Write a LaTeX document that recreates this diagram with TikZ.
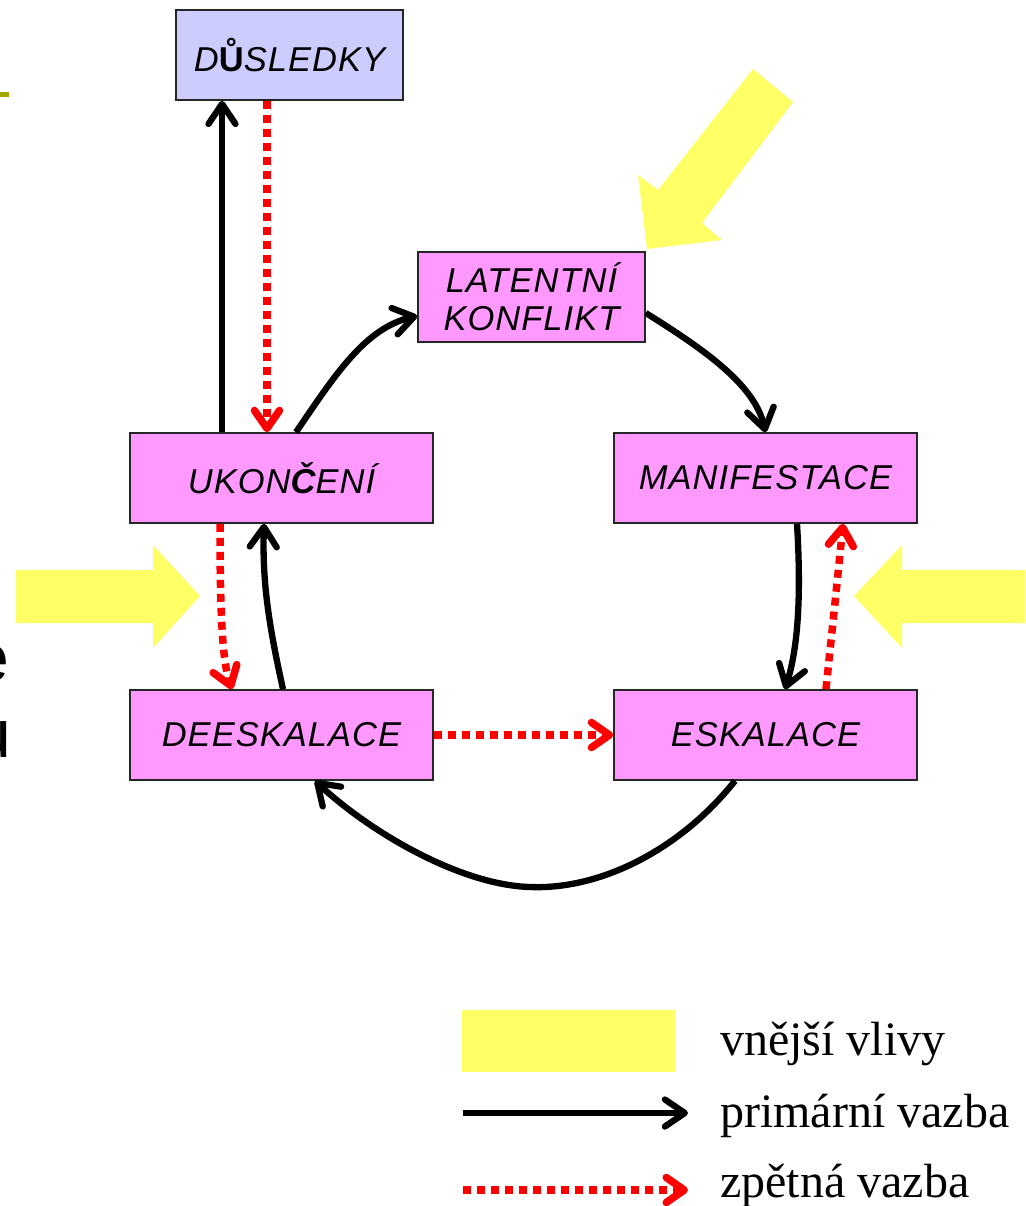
\documentclass[tikz,border=0pt]{standalone}
\usepackage{fontspec}
\setmainfont{Liberation Serif}
\newfontfamily\boxfont[LetterSpace=3]{Liberation Sans}
\newfontfamily\edgefont{Liberation Sans}
\usetikzlibrary{arrows.meta}
\definecolor{boxpink}{HTML}{FF99FF}
\definecolor{boxlav}{HTML}{CCCCFF}
\definecolor{infl}{HTML}{FFFF66}
\definecolor{olive}{HTML}{A6A600}
\tikzset{
  box/.style={draw=black!85, line width=1.6pt, inner sep=0pt, align=center,
    font=\boxfont\itshape\fontsize{34.5}{38}\selectfont},
  pinkbox/.style={box, fill=boxpink, minimum width=303pt, minimum height=90pt},
  smallbox/.style={box, minimum width=227pt, minimum height=90pt},
  prim/.style={line width=6.3pt, black, -{Straight Barb[length=20pt,width=27pt,round]}},
  fb/.style={line width=7.5pt, red, dash pattern=on 8pt off 6pt,
    -{Straight Barb[length=18pt,width=25pt,round]}},
  influence/.style={fill=infl},
  legtext/.style={anchor=base west, inner sep=0pt, font=\fontsize{48}{56}\selectfont},
  fragment/.style={anchor=base east, inner sep=0pt, font=\edgefont\fontsize{68}{80}\selectfont}
}
\begin{document}
\begin{tikzpicture}[x=1pt,y=-1pt]
\useasboundingbox (0,0) rectangle (1025,1206);

% fragments at the left edge (cut off in the reference too)
\fill[olive] (0,92.5) rectangle (9,97.5);
\node[fragment] (fe) at (10,681) {e};
\node[fragment] (fu) at (12,757) {u};

% external influences
\fill[influence] (753,69) -- (793,102) -- (702,223) -- (722,240) -- (647,249) -- (638,175) -- (658,190) -- cycle;
\fill[influence] (16,570) -- (153,570) -- (153,545) -- (200,596) -- (153,648) -- (153,623) -- (16,623) -- cycle;
\fill[influence] (1025,570) -- (902,570) -- (902,545) -- (854,596) -- (902,648) -- (902,623) -- (1025,623) -- cycle;

% boxes
\node[smallbox, fill=boxlav] (dus) at (289.5,55) {D{\bfseries\upshape Ů}SLEDKY};
\node[smallbox, fill=boxpink] (lat) at (531.5,297) {LATENTNÍ\\KONFLIKT};
\node[pinkbox] (uk) at (281.5,478) {UKON{\bfseries Č}ENÍ};
\node[pinkbox] (man) at (765.5,478) {MANIFESTACE};
\node[pinkbox] (dee) at (281.5,735) {DEESKALACE};
\node[pinkbox] (esk) at (765.5,735) {ESKALACE};

% primary links
\draw[prim] ([xshift=-59.5pt]uk.north) -- ([xshift=-67.5pt]dus.south);
\draw[prim] ([xshift=14.5pt]uk.north) .. controls (335,375) and (365,328) .. ([yshift=-19pt]lat.west);
\draw[prim] ([yshift=-16pt]lat.east) .. controls (705,350) and (755,385) .. (man.north);
\draw[prim] ([xshift=31.5pt]man.south) .. controls (801,590) and (799,645) .. ([xshift=19.5pt]esk.north);
\draw[prim] ([xshift=-30.5pt]esk.south) .. controls (680,850) and (600,890) .. (530,887)
  .. controls (460,885) and (370,832) .. ([xshift=33.5pt]dee.south);
\draw[prim] ([xshift=1.5pt]dee.north) .. controls (270,630) and (262,585) .. ([xshift=-17.5pt]uk.south);

% feedback links
\draw[fb] ([xshift=-22.5pt]dus.south) -- ([xshift=-14.5pt]uk.north);
\draw[fb] ([xshift=-61.5pt]uk.south) .. controls (220,610) and (222,660) .. ([xshift=-49.5pt]dee.north);
\draw[fb] (dee.east) -- (esk.west);
\draw[fb] ([xshift=60.5pt]esk.north) .. controls (831,640) and (837,585) .. ([xshift=77.5pt]man.south);

% legend
\fill[influence] (462,1010) rectangle (675,1072);
\coordinate (la1) at (463,1113);
\coordinate (la2) at (688,1113);
\coordinate (lb1) at (463,1190);
\coordinate (lb2) at (688,1190);
\draw[prim] (la1) -- (la2);
\draw[fb] (lb1) -- (lb2);
\node[legtext] (t1) at (720,1055) {vnější vlivy};
\node[legtext] (t2) at (720,1127) {primární vazba};
\node[legtext] (t3) at (720,1197) {zpětná vazba};
\end{tikzpicture}
\end{document}
